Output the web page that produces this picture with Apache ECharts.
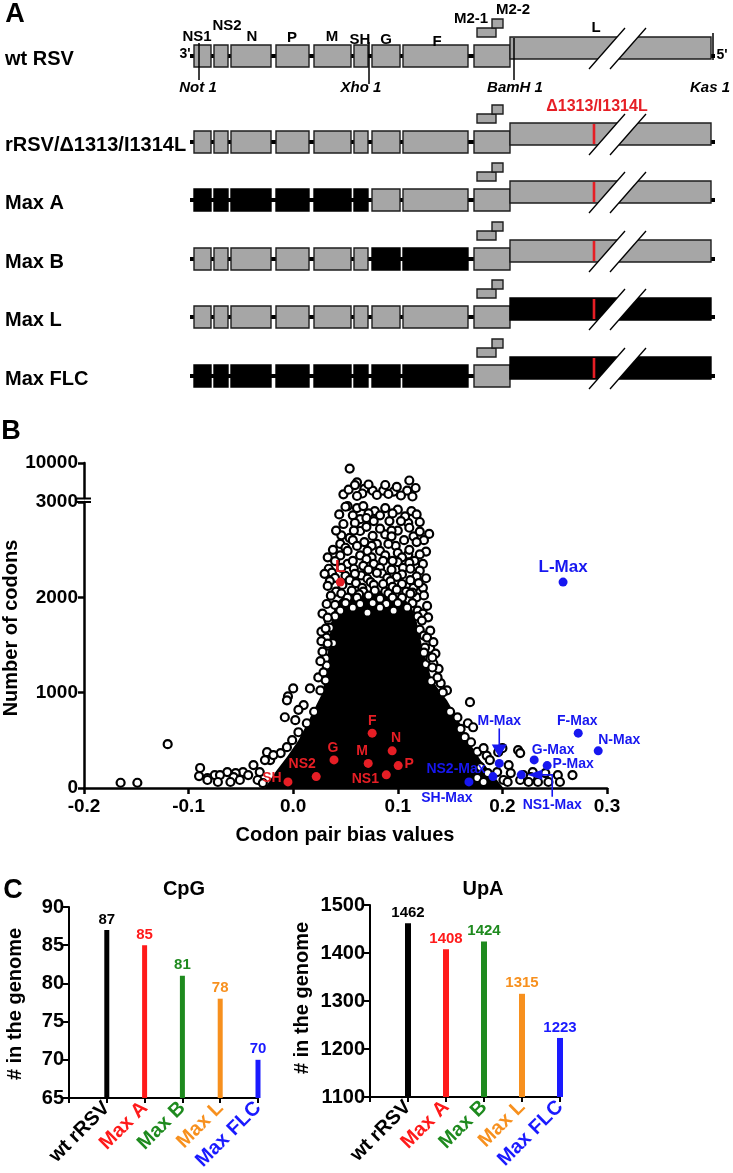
<!DOCTYPE html>
<html><head><meta charset="utf-8">
<script src="https://cdn.jsdelivr.net/npm/echarts@6/dist/echarts.min.js"></script>
<style>html,body{margin:0;padding:0;background:#fff}#c{width:733px;height:1173px}</style>
</head><body><div id="c"></div>
<script>
// ================= DATA =================
// Panel A – genome map (map units along the drawn genome line)
const geneNames  = ['NS1','NS2','N','P','M','SH','G','F','M2','L'];
const geneStart  = [3, 23, 40, 85, 123, 163, 181, 212, 283, 319];
const geneEnd    = [20, 37, 80, 118, 160, 177, 209, 277, 319, 520];
const genomeLength = 523;
const m2OrfNames = ['M2-1','M2-2'];
const m2OrfStart = [286, 301];
const m2OrfEnd   = [305, 312];
const siteNames  = ['Not 1','Xho 1','BamH 1','Kas 1'];
const sitePos    = [8, 178, 323, 522];
const mutationPos = 403;
const mutationLabel = '\u03941313/I1314L';
const rowNames   = ['wt RSV','rRSV/\u03941313/I1314L','Max A','Max B','Max L','Max FLC'];
const rowBlack   = [[], [], ['NS1','NS2','N','P','M','SH'], ['G','F'], ['L'], ['NS1','NS2','N','P','M','SH','G','F','L']];
const rowMutant  = [false, true, true, true, true, true];

// Panel B – codon pair bias scatter  [CPB value, number of codons]
const cloudPoints = [
  [0.054,8890],[0.111,6500],[0.061,6130],[0.048,3740],[0.053,4660],[0.068,4840],
  [0.076,4470],[0.086,4470],[0.096,4290],[0.099,5210],[0.109,4470],[0.059,5580],
  [0.066,3900],[0.080,3600],[0.091,3800],[0.103,3500],[0.072,5700],[0.088,5600],
  [0.117,5000],[0.061,3400],[0.114,3300],
  [0.052,2957],[0.061,2936],[0.067,2957],[0.078,2905],[0.088,2936],[0.113,2905],
  [0.050,2950],[0.100,2920],[0.118,2870],[0.064,2820],[0.092,2800],[0.110,2780],
  [0.044,2870],[0.057,2860],[0.072,2880],[0.083,2860],[0.095,2880],[0.107,2850],
  [0.103,2800],[0.121,2790],[0.130,2665],[0.048,2769],[0.059,2780],[0.070,2832],
  [0.077,2800],[0.054,2623],[0.064,2696],[0.076,2644],
  [0.046,2650],[0.058,2700],[0.088,2660],[0.100,2700],[0.115,2640],[0.125,2600],
  [0.041,2700],[0.070,2740],[0.083,2720],[0.094,2700],[0.111,2730],[0.121,2690],
  [0.045,2560],[0.057,2600],[0.068,2580],[0.080,2560],[0.094,2640],[0.106,2600],[0.118,2580],
  [0.050,2520],[0.075,2540],[0.098,2540],[0.110,2450],[0.127,2480],
  [0.038,2498],[0.052,2487],
  [0.061,2539],[0.071,2487],[0.083,2487],[0.091,2560],[0.100,2466],[0.111,2498],
  [0.033,2420],[0.045,2440],[0.064,2440],[0.075,2420],[0.088,2440],[0.104,2420],[0.121,2450],
  [0.040,2380],[0.052,2350],[0.070,2400],[0.100,2370],[0.124,2350],
  [0.057,2383],[0.067,2330],[0.077,2351],[0.086,2383],[0.095,2383],[0.105,2309],
  [0.116,2383],[0.111,2362],
  [0.034,2300],[0.046,2310],[0.058,2300],[0.072,2290],[0.083,2310],[0.094,2290],[0.112,2300],[0.121,2280],
  [0.037,2260],[0.065,2230],[0.085,2250],[0.104,2240],[0.118,2220],[0.127,2200],
  [0.030,2247],[0.040,2205],[0.050,2226],[0.059,2247],
  [0.071,2195],[0.080,2257],[0.090,2205],[0.099,2215],[0.109,2121],[0.115,2100],
  [0.035,2170],[0.054,2180],[0.074,2160],[0.093,2170],[0.112,2180],[0.124,2100],
  [0.033,2120],[0.047,2130],[0.060,2150],[0.066,2100],[0.077,2130],[0.086,2140],[0.095,2110],[0.104,2140],[0.120,2150],
  [0.041,2060],[0.056,2070],[0.067,2060],[0.078,2070],[0.088,2060],[0.099,2080],[0.108,2060],[0.118,2000],
  [0.046,2040],[0.063,2030],[0.091,2040],[0.114,2050],[0.125,2020],
  [0.036,2017],[0.052,1996],[0.061,1996],[0.072,2017],[0.083,1986],[0.095,1996],
  [0.104,1996],[0.112,2038],
  [0.032,1930],[0.040,1920],[0.050,1940],[0.064,1930],[0.076,1940],[0.089,1930],[0.100,1940],[0.114,1940],[0.128,1910],
  [0.045,1860],[0.057,1891],[0.071,1839],[0.083,1891],
  [0.096,1860],[0.109,1891],[0.119,1860],[0.124,1829],
  [0.028,1830],[0.040,1800],[0.119,1800],[0.129,1790],
  [0.034,1756],[0.035,1682],[0.123,1756],[0.033,1787],
  [0.027,1640],[0.121,1660],[0.131,1650],
  [0.032,1578],[0.033,1494],[0.125,1599],
  [0.128,1578],[0.131,1463],[0.031,1672],[0.126,1473],[0.031,1359],[0.032,1285],
  [0.027,1540],[0.038,1520],[0.134,1530],
  [0.028,1430],[0.125,1420],[0.136,1410],
  [0.026,1330],[0.127,1300],[0.139,1250],
  [0.024,1160],[0.132,1120],[0.141,1100],
  [0.131,1359],[0.134,1306],[0.138,1160],[0.029,1212],[0.031,1129],
  [0.147,1024],[0.133,1369],[0.033,1515],[0.133,1264],[0.143,1003],
  [0.000,1045],[0.016,1045],[-0.005,961],[0.026,1024],[-0.006,920],[0.010,870],
  [0.020,800],[0.005,820],[-0.008,742],[0.002,711],[0.013,679],[0.005,585],
  [-0.001,502],[-0.006,428],[-0.012,366],[-0.022,293],[-0.027,293],[-0.025,376],
  [-0.019,345],[-0.038,240],[-0.032,167],[-0.048,167],[-0.055,157],[-0.063,167],
  [-0.075,136],[-0.082,105],[-0.089,210],[-0.090,125],[-0.082,84],[-0.070,136],
  [-0.057,115],[-0.072,63],[-0.060,63],[-0.051,84],[-0.043,136],[-0.034,84],
  [-0.029,52],[-0.165,55],[-0.149,55],[-0.120,460],
  [0.169,900],[0.150,800],[0.157,740],[0.167,679],[0.172,637],[0.160,620],
  [0.164,533],[0.170,480],[0.176,380],[0.185,340],[0.182,418],[0.200,418],
  [0.215,397],[0.196,376],[0.217,366],[0.188,293],[0.206,240],[0.179,219],
  [0.208,157],[0.186,157],[0.195,167],[0.220,136],[0.229,167],[0.241,157],
  [0.253,136],[0.267,136],[0.227,115],[0.176,105],[0.217,84],[0.201,84],
  [0.182,63],[0.205,63],[0.225,63],[0.234,63],[0.244,63],[0.255,63]
];
// outline of the fully over-plotted (solid black) core of the cloud
const coreOutline = [
  [-0.027,0],[-0.017,167],[-0.006,324],[0.005,502],[0.014,690],[0.022,867],
  [0.028,1000],[0.031,1200],[0.033,1400],[0.035,1600],[0.037,1800],[0.042,1950],
  [0.050,2030],[0.060,2060],[0.072,2040],[0.083,2070],[0.095,2030],[0.105,2000],
  [0.113,1900],[0.118,1750],[0.121,1600],[0.124,1450],[0.128,1300],[0.132,1150],
  [0.138,1050],[0.147,920],[0.158,711],[0.167,502],[0.179,293],[0.191,136],[0.201,0]
];
const geneLabels = ['L','F','N','G','M','P','NS1','NS2','SH'];
const geneCodons = [2160, 575, 390, 295, 258, 235, 138, 120, 64];
const wtCPB      = [0.045, 0.0755, 0.0946, 0.039, 0.0717, 0.1004, 0.089, 0.022, -0.005];
const maxLabels  = ['L-Max','F-Max','N-Max','G-Max','M-Max','P-Max','NS1-Max','NS2-Max','SH-Max'];
const maxCPB     = [0.258, 0.2725, 0.2916, 0.2304, 0.197, 0.2428, 0.218, 0.191, 0.168];
const xTicksB    = [-0.2, 0.3, 0.1];

// Panel C – dinucleotide counts
const virusNames = ['wt rRSV','Max A','Max B','Max L','Max FLC'];
const cpgCounts  = [87, 85, 81, 78, 70];
const upaCounts  = [1462, 1408, 1424, 1315, 1223];

// ================= STYLE / LAYOUT =================
const FONT = "'Liberation Sans', Arial, Helvetica, sans-serif";
const RED = '#e61e25', BLUE = '#1717f0', GRAY = '#a6a6a6';
const virusColors = ['#000000', '#ff1a1a', '#1e8a1e', '#f7901e', '#1a1aff'];
const ROW_Y = [56, 142, 200, 259, 317, 376];
const ROW_LABEL_X = 5;
const geneLabelDy = {NS1:-19, NS2:-30, N:-19, P:-18, M:-19, SH:-16, G:-16, F:-14, L:-28};
const geneLabelU  = {NS1:6, NS2:36, N:61, P:101, M:141, SH:169, G:195, F:246, L:405};
const m2LabelU = [280, 322], m2LabelDy = [-37, -46];
const siteTop = [-13, -14, -18, -23], siteBottom = [24, 28, 24, 4];
const siteLabelU = [7, 170, 324, 519];
const redLabelOffset  = [[0,-15],[0,-12],[4,-13],[-1,-12],[-6,-12],[11,-1],[-21,4],[-14,-12],[-16,-4]];
const blueLabelOffset = [[0,-15],[-1,-12],[21,-11],[19,-10],[0,-42],[26,-1],[31,30],[-37,-7],[-22,16]];

function txt(x, y, s, o) {
  return {type:'text', x, y, z2: 10, style: Object.assign({text:s, fill:'#000', font:'bold 14px ' + FONT,
    align:'center', verticalAlign:'middle', textAlign:'center', textVerticalAlign:'middle'}, o || {})};
}

function renderGenome(params, api) {
  const r = api.value(0);
  const c = ROW_Y[r];
  const P = (u, y) => api.coord([u, y]);
  const kids = [];
  const box = (u0, u1, y0, y1, fill) => {
    const a = P(u0, y0), b = P(u1, y1);
    return {type:'rect', shape:{x:a[0], y:a[1], width:b[0]-a[0], height:b[1]-a[1]},
      style:{fill, stroke: fill === '#000' ? '#000' : '#1e1e1e', lineWidth:1.4}};
  };
  const l0 = P(0, c), l1 = P(genomeLength, c);
  kids.push({type:'line', shape:{x1:l0[0]-1, y1:l0[1], x2:l1[0]+1, y2:l1[1]}, style:{stroke:'#000', lineWidth:4}});
  for (let i = 0; i < geneNames.length; i++) {
    const isBlack = rowBlack[r].indexOf(geneNames[i]) >= 0;
    const fill = isBlack ? '#000' : GRAY;
    if (geneNames[i] === 'L') kids.push(box(geneStart[i], geneEnd[i], c-19, c+3, fill));
    else kids.push(box(geneStart[i], geneEnd[i], c-11, c+11, fill));
  }
  kids.push(box(m2OrfStart[0], m2OrfEnd[0], c-28, c-19, GRAY));
  kids.push(box(m2OrfStart[1], m2OrfEnd[1], c-37, c-28, GRAY));
  if (rowMutant[r]) {
    const a = P(mutationPos, c-19), b = P(mutationPos, c+3);
    kids.push({type:'line', shape:{x1:a[0], y1:a[1]+1, x2:b[0], y2:b[1]-1}, style:{stroke:RED, lineWidth:2.6}});
  }
  const s1 = P(398, c+13), s2 = P(434, c-28), s3 = P(455, c-28), s4 = P(419, c+13);
  kids.push({type:'polygon', shape:{points:[s1, s2, s3, s4]}, style:{fill:'#fff'}});
  kids.push({type:'line', shape:{x1:s1[0], y1:s1[1], x2:s2[0], y2:s2[1]}, style:{stroke:'#000', lineWidth:1.3}});
  kids.push({type:'line', shape:{x1:s4[0], y1:s4[1], x2:s3[0], y2:s3[1]}, style:{stroke:'#000', lineWidth:1.3}});
  kids.push(txt(ROW_LABEL_X, c+3, rowNames[r], {align:'left', textAlign:'left', font:'bold 20px ' + FONT}));
  if (r === 0) {
    for (let i = 0; i < siteNames.length; i++) {
      const a = P(sitePos[i], c+siteTop[i]), b = P(sitePos[i], c+siteBottom[i]);
      kids.push({type:'line', shape:{x1:a[0], y1:a[1], x2:b[0], y2:b[1]}, style:{stroke:'#000', lineWidth:1.5}});
      const t = P(siteLabelU[i], c+32);
      kids.push(txt(t[0], t[1], siteNames[i], {font:'italic bold 15px ' + FONT}));
    }
    for (let i = 0; i < geneNames.length; i++) {
      const g = geneNames[i];
      if (g === 'M2') continue;
      const t = P(geneLabelU[g], c + geneLabelDy[g]);
      kids.push(txt(t[0], t[1], g, {font:'bold 15px ' + FONT}));
    }
    for (let i = 0; i < 2; i++) {
      const t = P(m2LabelU[i], c + m2LabelDy[i]);
      kids.push(txt(t[0], t[1], m2OrfNames[i], {font:'bold 15px ' + FONT}));
    }
    const t3 = P(-6, c-2), t5 = P(genomeLength + 8, c-1);
    kids.push(txt(t3[0], t3[1], "3'", {font:'bold 14px ' + FONT}));
    kids.push(txt(t5[0], t5[1], "5'", {font:'bold 14px ' + FONT}));
  }
  if (r === 1) {
    const t = P(406, c-35);
    kids.push(txt(t[0], t[1], mutationLabel, {fill:RED, font:'bold 16px ' + FONT}));
  }
  return {type:'group', children:kids};
}

function renderCore(params, api) {
  if (params.dataIndex !== 0) return null;
  const pts = coreOutline.map(p => api.coord(p));
  return {type:'polygon', shape:{points:pts}, style:{fill:'#000'}};
}

function renderArrows(params, api) {
  const i = api.value(2);
  const p = api.coord([api.value(0), api.value(1)]);
  const x = p[0], y = p[1];
  if (i === 0) {
    return {type:'group', children:[
      {type:'line', shape:{x1:x, y1:y-35, x2:x, y2:y-17}, style:{stroke:BLUE, lineWidth:1.6}},
      {type:'polygon', shape:{points:[[x-7.5,y-19],[x+7.5,y-19],[x,y-6]]}, style:{fill:BLUE}}
    ]};
  }
  return {type:'group', children:[
    {type:'polyline', shape:{points:[[x+31,y+22],[x+31,y],[x+19,y]]}, style:{stroke:BLUE, lineWidth:1.6, fill:null}},
    {type:'polygon', shape:{points:[[x+6,y],[x+21,y-5],[x+21,y+5]]}, style:{fill:BLUE}}
  ]};
}

const plain = v => String(v);
const axisTxt = {color:'#000', fontFamily:FONT, fontWeight:'bold', fontSize:19};
const axLine = {show:true, onZero:false, lineStyle:{color:'#000', width:2.5}};
const axTick = {show:true, length:6, lineStyle:{color:'#000', width:2.5}};
const gridBase = {containLabel:false, outerBoundsMode:'none'};

const chart = echarts.init(document.getElementById('c'), null, {renderer:'canvas'});

const redData = geneLabels.map((n, i) => ({name:n, value:[wtCPB[i], geneCodons[i]],
  label:{offset:redLabelOffset[i], fontSize: n === 'L' ? 17 : 14}}));
const blueData = maxLabels.map((n, i) => ({name:n, value:[maxCPB[i], geneCodons[i]],
  label:{offset:blueLabelOffset[i], fontSize: n === 'L-Max' ? 17 : 14}}));
const arrowData = [[maxCPB[4], geneCodons[4], 0], [maxCPB[6], geneCodons[6], 1]];

function barData(vals) {
  return ['-'].concat(vals.map((v, i) => ({value:v, itemStyle:{color:virusColors[i]}, label:{color:virusColors[i]}})));
}
function catAxis(gi) {
  return {type:'category', gridIndex:gi, data:[''].concat(virusNames), boundaryGap:false,
    axisLine:{show:true, onZero:false, lineStyle:{color:'#000', width:2}},
    axisTick:{show:true, length:5, lineStyle:{color:'#000', width:2}},
    axisLabel:{rotate:45, margin:7, fontFamily:FONT, fontWeight:'bold', fontSize:20, interval:0,
      color:(v, idx) => idx > 0 ? virusColors[idx-1] : '#000'},
    splitLine:{show:false}};
}
function valAxisC(gi, min, max, itv) {
  return {type:'value', gridIndex:gi, min, max, interval:itv,
    axisLine:{show:true, onZero:false, lineStyle:{color:'#000', width:2}},
    axisTick:{show:true, length:6, lineStyle:{color:'#000', width:2}},
    axisLabel:{margin:5, color:'#000', fontFamily:FONT, fontWeight:'bold', fontSize:20, formatter:plain},
    splitLine:{show:false}};
}

const gText = (x, y, s, size, rot) => ({type:'text', x, y, rotation: rot || 0,
  style:{text:s, fill:'#000', font:'bold ' + size + 'px ' + FONT, align:'center', verticalAlign:'middle',
    textAlign:'center', textVerticalAlign:'middle'}});

const hollow = {color:'#fff', borderColor:'#000', borderWidth:2.2, opacity:1};

chart.setOption({
  animation:false,
  backgroundColor:'#fff',
  grid:[
    Object.assign({left:191, top:0, width:523, height:400}, gridBase),
    Object.assign({left:84, top:463, width:523, height:35}, gridBase),
    Object.assign({left:84, top:502, width:523, height:286}, gridBase),
    Object.assign({left:69, top:907, width:189, height:191}, gridBase),
    Object.assign({left:370, top:905, width:190, height:192}, gridBase)
  ],
  xAxis:[
    {type:'value', gridIndex:0, min:0, max:genomeLength, show:false},
    {type:'value', gridIndex:1, min:xTicksB[0], max:xTicksB[1], show:false},
    {type:'value', gridIndex:2, min:xTicksB[0], max:xTicksB[1], interval:xTicksB[2],
      axisLine:axLine, axisTick:axTick, splitLine:{show:false},
      axisLabel:Object.assign({margin:9, formatter:v => (Math.abs(v) < 1e-9 ? 0 : v).toFixed(1)}, axisTxt)},
    catAxis(3), catAxis(4)
  ],
  yAxis:[
    {type:'value', gridIndex:0, min:0, max:400, inverse:true, show:false},
    {type:'value', gridIndex:1, min:3000, max:10000, axisLine:axLine, splitLine:{show:false},
      axisTick:Object.assign({customValues:[10000]}, axTick),
      axisLabel:Object.assign({margin:6, customValues:[10000], formatter:plain}, axisTxt)},
    {type:'value', gridIndex:2, min:0, max:3000, interval:1000, axisLine:axLine, axisTick:axTick,
      splitLine:{show:false}, axisLabel:Object.assign({margin:6, formatter:plain}, axisTxt)},
    valAxisC(3, 65, 90, 5), valAxisC(4, 1100, 1500, 100)
  ],
  series:[
    {type:'custom', xAxisIndex:0, yAxisIndex:0, renderItem:renderGenome, clip:false,
      data:rowNames.map((n, i) => [i, ROW_Y[i]])},
    {type:'custom', xAxisIndex:2, yAxisIndex:2, renderItem:renderCore, clip:false, z:1,
      data:coreOutline},
    {type:'scatter', xAxisIndex:2, yAxisIndex:2, z:2, symbol:'circle', symbolSize:8, clip:false,
      itemStyle:hollow, data:cloudPoints.filter(p => p[1] <= 3000)},
    {type:'scatter', xAxisIndex:1, yAxisIndex:1, z:2, symbol:'circle', symbolSize:8, clip:false,
      itemStyle:hollow, data:cloudPoints.filter(p => p[1] > 3000)},
    {type:'scatter', xAxisIndex:2, yAxisIndex:2, z:5, symbolSize:9, clip:false,
      itemStyle:{color:RED, opacity:1},
      label:{show:true, position:'inside', formatter:'{b}', color:RED, fontFamily:FONT, fontWeight:'bold'},
      data:redData},
    {type:'scatter', xAxisIndex:2, yAxisIndex:2, z:5, symbolSize:9, clip:false,
      itemStyle:{color:BLUE, opacity:1},
      label:{show:true, position:'inside', formatter:'{b}', color:BLUE, fontFamily:FONT, fontWeight:'bold'},
      data:blueData},
    {type:'custom', xAxisIndex:2, yAxisIndex:2, z:6, clip:false, renderItem:renderArrows, data:arrowData},
    {type:'bar', xAxisIndex:3, yAxisIndex:3, barWidth:5, data:barData(cpgCounts),
      label:{show:true, position:'top', distance:3, fontFamily:FONT, fontWeight:'bold', fontSize:15}},
    {type:'bar', xAxisIndex:4, yAxisIndex:4, barWidth:6, data:barData(upaCounts),
      label:{show:true, position:'top', distance:3, fontFamily:FONT, fontWeight:'bold', fontSize:15}}
  ],
  graphic:[
    gText(15, 15, 'A', 27), gText(11, 432, 'B', 27), gText(13, 891, 'C', 27),
    gText(345, 835, 'Codon pair bias values', 20),
    gText(11, 628, 'Number of codons', 20, Math.PI/2),
    gText(184, 889, 'CpG', 20), gText(483, 889, 'UpA', 20),
    gText(15, 1004, '# in the genome', 20, Math.PI/2),
    gText(302, 998, '# in the genome', 20, Math.PI/2),
    {type:'line', shape:{x1:77, y1:498.5, x2:91, y2:498.5}, style:{stroke:'#000', lineWidth:2}},
    {type:'line', shape:{x1:77, y1:502, x2:91, y2:502}, style:{stroke:'#000', lineWidth:2}}
  ]
});
</script>
</body></html>
